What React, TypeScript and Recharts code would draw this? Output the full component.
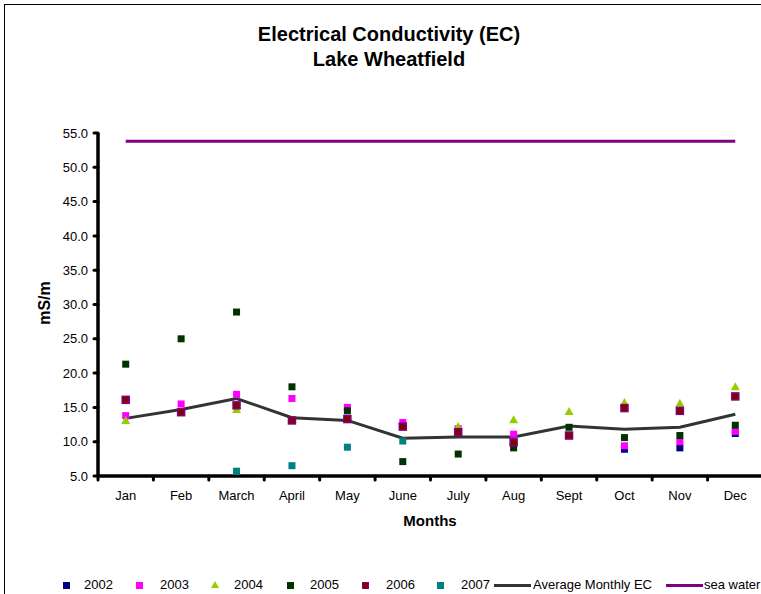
import React from 'react';
import { ComposedChart, Line, XAxis, YAxis } from 'recharts';

const months = ['Jan', 'Feb', 'March', 'April', 'May', 'June', 'July', 'Aug', 'Sept', 'Oct', 'Nov', 'Dec'];
const y2002 = [null, null, null, null, null, null, null, null, null, 8.9, 9.1, 11.2];
const y2003 = [13.8, 15.5, 16.9, 16.3, 15.0, 12.8, 11.9, 11.1, null, 9.4, 10.0, 11.5];
const y2004 = [13.1, null, 14.7, null, null, null, 12.2, 13.2, 14.4, 15.7, 15.6, 18.0];
const y2005 = [21.3, 25.0, 28.9, 18.0, 14.5, 7.1, 8.2, 9.1, 12.1, 10.6, 10.9, 12.4];
const y2006 = [16.1, 14.3, 15.3, 13.1, 13.3, 12.2, 11.4, 9.9, 10.9, 14.9, 14.5, 16.6];
const y2007 = [null, null, 5.7, 6.5, 9.2, 10.1, null, null, null, null, null, null];
const avgMonthly = [13.4, 14.7, 16.3, 13.5, 13.1, 10.5, 10.7, 10.7, 12.3, 11.8, 12.1, 14.0];
const seaWater = [53.8, 53.8, 53.8, 53.8, 53.8, 53.8, 53.8, 53.8, 53.8, 53.8, 53.8, 53.8];
const yTicks = [5, 10, 15, 20, 25, 30, 35, 40, 45, 50, 55];

const data = months.map((m, i) => ({
  month: m,
  y2002: y2002[i],
  y2003: y2003[i],
  y2004: y2004[i],
  y2005: y2005[i],
  y2006: y2006[i],
  y2007: y2007[i],
  avg: avgMonthly[i],
  sea: seaWater[i],
}));

const FONT = '"Liberation Sans", Arial, Helvetica, sans-serif';
const W = 780;
const H = 600;
const M = { top: 133, right: 17, bottom: 94, left: 0 };
const YW = 98;
const XH = 30;
const PLOT_W = W - M.left - M.right - YW;
const BW = PLOT_W / months.length;
const AXIS_Y = H - M.bottom - XH;

const C = {
  c2002: '#000080',
  c2003: '#FF00FF',
  c2004: '#99CC00',
  c2005: '#003300',
  c2006: '#800000',
  c2006b: '#800080',
  c2007: '#008080',
  avg: '#333333',
  sea: '#800080',
};

function squareDot(name: string, fill: string, stroke?: string) {
  return (props: any) => {
    const { cx, cy, value, index } = props;
    if (value == null || cx == null || cy == null || isNaN(cy)) return <g key={`${name}-${index}`} />;
    return (
      <rect
        key={`${name}-${index}`}
        x={cx - 3.5}
        y={cy - 3.5}
        width={7}
        height={7}
        fill={fill}
        stroke={stroke || 'none'}
        strokeWidth={stroke ? 1.5 : 0}
      />
    );
  };
}

function triDot(name: string, fill: string) {
  return (props: any) => {
    const { cx, cy, value, index } = props;
    if (value == null || cx == null || cy == null || isNaN(cy)) return <g key={`${name}-${index}`} />;
    return (
      <polygon
        key={`${name}-${index}`}
        points={`${cx},${cy - 4.5} ${cx + 4.5},${cy + 3.5} ${cx - 4.5},${cy + 3.5}`}
        fill={fill}
      />
    );
  };
}

const XTick = (props: any) => {
  const { x, payload } = props;
  const bx = x - BW / 2;
  return (
    <g>
      <line x1={bx} y1={AXIS_Y} x2={bx} y2={AXIS_Y + 4} stroke="#000" strokeWidth={3} strokeLinecap="round" />
      <text x={x} y={AXIS_Y + 24} textAnchor="middle" fontSize={13} fontFamily={FONT} fill="#000">
        {payload.value}
      </text>
    </g>
  );
};

const legendItems = [
  { label: '2002', kind: 'sq', color: C.c2002, x: 66, tx: 84 },
  { label: '2003', kind: 'sq', color: C.c2003, x: 139, tx: 160 },
  { label: '2004', kind: 'tri', color: C.c2004, x: 215, tx: 234 },
  { label: '2005', kind: 'sq', color: C.c2005, x: 290, tx: 310 },
  { label: '2006', kind: 'sq6', color: C.c2006, x: 365, tx: 386 },
  { label: '2007', kind: 'sq', color: C.c2007, x: 440, tx: 461 },
  { label: 'Average Monthly EC', kind: 'line', color: C.avg, x: 494, tx: 533 },
  { label: 'sea water', kind: 'line', color: C.sea, x: 666, tx: 704 },
];

const LEG_Y = 585;

export default function App() {
  return (
    <div
      style={{
        position: 'absolute',
        left: 0,
        top: 0,
        width: 761,
        height: 594,
        overflow: 'hidden',
        background: '#fff',
        fontFamily: FONT,
      }}
    >
      <div
        style={{
          position: 'absolute',
          left: 4,
          top: 4,
          width: 900,
          height: 900,
          borderLeft: '1px solid #000',
          borderTop: '1px solid #000',
        }}
      />
      <div style={{ position: 'absolute', left: 0, top: 0 }}>
        <ComposedChart width={W} height={H} data={data} margin={M}>
          <XAxis
            dataKey="month"
            scale="band"
            interval={0}
            height={XH}
            axisLine={{ stroke: '#000', strokeWidth: 3.5 }}
            tickLine={false}
            tickSize={0}
            tick={<XTick />}
          />
          <YAxis
            width={YW}
            domain={[5, 55]}
            ticks={yTicks}
            interval={0}
            allowDataOverflow
            tickFormatter={(v: number) => v.toFixed(1)}
            axisLine={{ stroke: '#000', strokeWidth: 3.5 }}
            tickLine={{ stroke: '#000', strokeWidth: 3, strokeLinecap: 'round' } as any}
            tickSize={4}
            tickMargin={6}
            tick={{ fontSize: 13, fill: '#000', fontFamily: FONT }}
          />
          <Line dataKey="y2002" stroke="none" dot={squareDot('a', C.c2002)} activeDot={false} isAnimationActive={false} />
          <Line dataKey="y2003" stroke="none" dot={squareDot('b', C.c2003)} activeDot={false} isAnimationActive={false} />
          <Line dataKey="y2004" stroke="none" dot={triDot('c', C.c2004)} activeDot={false} isAnimationActive={false} />
          <Line dataKey="y2005" stroke="none" dot={squareDot('d', C.c2005)} activeDot={false} isAnimationActive={false} />
          <Line dataKey="y2006" stroke="none" dot={squareDot('e', C.c2006, C.c2006b)} activeDot={false} isAnimationActive={false} />
          <Line dataKey="y2007" stroke="none" dot={squareDot('f', C.c2007)} activeDot={false} isAnimationActive={false} />
          <Line dataKey="avg" type="linear" stroke={C.avg} strokeWidth={3} dot={false} activeDot={false} isAnimationActive={false} />
          <Line dataKey="sea" type="linear" stroke={C.sea} strokeWidth={3} dot={false} activeDot={false} isAnimationActive={false} />
        </ComposedChart>
      </div>

      <div
        style={{
          position: 'absolute',
          left: 0,
          width: 778,
          top: 22,
          textAlign: 'center',
          fontSize: 20,
          fontWeight: 'bold',
          lineHeight: '25px',
          color: '#000',
        }}
      >
        <div>Electrical Conductivity (EC)</div>
        <div>Lake Wheatfield</div>
      </div>

      <div
        style={{
          position: 'absolute',
          left: 45,
          top: 303,
          transform: 'translate(-50%, -50%) rotate(-90deg)',
          fontSize: 16,
          fontWeight: 'bold',
          whiteSpace: 'nowrap',
        }}
      >
        mS/m
      </div>

      <div
        style={{
          position: 'absolute',
          left: 430,
          top: 520,
          transform: 'translate(-50%, -50%)',
          fontSize: 15,
          fontWeight: 'bold',
          whiteSpace: 'nowrap',
        }}
      >
        Months
      </div>

      {legendItems.map((it) => (
        <React.Fragment key={it.label}>
          {it.kind === 'sq' && (
            <div style={{ position: 'absolute', left: it.x - 3.5, top: LEG_Y - 3.5, width: 7, height: 7, background: it.color }} />
          )}
          {it.kind === 'sq6' && (
            <div
              style={{
                position: 'absolute',
                left: it.x - 3.5,
                top: LEG_Y - 3.5,
                width: 5,
                height: 5,
                background: it.color,
                border: `1px solid ${C.c2006b}`,
              }}
            />
          )}
          {it.kind === 'tri' && (
            <svg style={{ position: 'absolute', left: it.x - 4, top: LEG_Y - 4 }} width={8} height={8}>
              <polygon points="4,0 8,7 0,7" fill={it.color} />
            </svg>
          )}
          {it.kind === 'line' && (
            <div style={{ position: 'absolute', left: it.x, top: LEG_Y - 1.5, width: 37, height: 3, background: it.color }} />
          )}
          <div
            style={{
              position: 'absolute',
              left: it.tx,
              top: LEG_Y - 8.5,
              fontSize: 13,
              lineHeight: '16px',
              whiteSpace: 'nowrap',
              color: '#000',
            }}
          >
            {it.label}
          </div>
        </React.Fragment>
      ))}
    </div>
  );
}
